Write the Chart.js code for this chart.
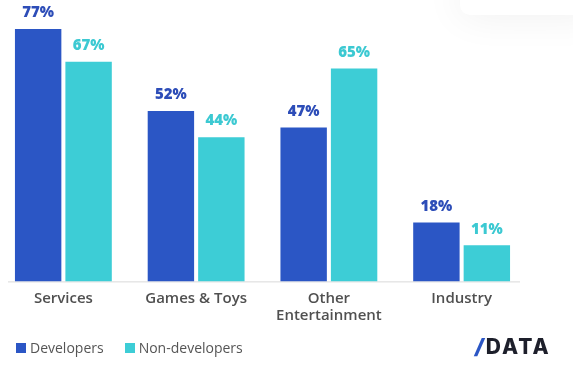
<!DOCTYPE html>
<html>
<head>
<meta charset="utf-8">
<script src="https://cdn.jsdelivr.net/npm/chart.js@4"></script>
<style>
  body { margin: 0; background: #fff; width: 573px; height: 370px; overflow: hidden; position: relative; font-family: 'Open Sans', sans-serif; }
  #wrap { position: absolute; left: -3px; top: 0; width: 534px; height: 370px; }
  .corner { position: absolute; left: 460px; top: -20px; width: 140px; height: 35px; background: #fff; border-radius: 10px; box-shadow: 0 0 40px rgba(0,0,0,0.07); }
  .legend { position: absolute; left: 16px; top: 338px; font-size: 14px; color: #555; display: flex; }
  .legend span { display: flex; align-items: center; margin-right: 21px; }
  .legend i { display: inline-block; width: 10px; height: 10px; margin-right: 4px; }
  .logo { position: absolute; left: 475px; top: 334px; font-family: 'Inter', sans-serif; font-weight: 800; font-size: 21px; color: #1d1f2b; letter-spacing: 2px; }
  .logo b { color: #2b56c5; font-style: italic; margin-right: 0; }
</style>
</head>
<body>
<div class="corner"></div>
<div id="wrap"><canvas id="chart"></canvas></div>
<div class="legend">
  <span><i style="background:#2b56c5"></i>Developers</span>
  <span><i style="background:#3dcdd6"></i>Non-developers</span>
</div>
<div class="logo"><b>/</b>DATA</div>
<script>
const categories = ['Services', 'Games & Toys', ['Other', 'Entertainment'], 'Industry'];
const developers = [77, 52, 47, 18];
const nonDevelopers = [67, 44, 65, 11];

const devColor = '#2b56c5';
const nonDevColor = '#3dcdd6';

// value labels above bars
const valueLabels = {
    id: 'valueLabels',
    afterDatasetsDraw(chart) {
        const ctx = chart.ctx;
        ctx.save();
        ctx.font = "800 15px 'Open Sans'";
        ctx.textAlign = 'center';
        ctx.textBaseline = 'middle';
        chart.data.datasets.forEach((ds, i) => {
            chart.getDatasetMeta(i).data.forEach((bar, j) => {
                ctx.fillStyle = i === 0 ? '#2d4db8' : '#3cc9d2';
                ctx.fillText(ds.data[j] + '%', bar.x, bar.y - 16);
            });
        });
        ctx.restore();
    }
};

// baseline, shorter than the chart area
const baseLine = {
    id: 'baseLine',
    beforeDatasetsDraw(chart) {
        const ctx = chart.ctx;
        const y = chart.scales.y.getPixelForValue(0);
        ctx.save();
        ctx.strokeStyle = '#d9d9d9';
        ctx.lineWidth = 1;
        ctx.beginPath();
        ctx.moveTo(11, y + 0.5);
        ctx.lineTo(523, y + 0.5);
        ctx.stroke();
        ctx.restore();
    }
};

new Chart(document.getElementById('chart'), {
    type: 'bar',
    data: {
        labels: categories,
        datasets: [
            { label: 'Developers', data: developers, backgroundColor: devColor },
            { label: 'Non-developers', data: nonDevelopers, backgroundColor: nonDevColor }
        ]
    },
    options: {
        responsive: true,
        maintainAspectRatio: false,
        animation: false,
        datasets: { bar: { barPercentage: 0.92, categoryPercentage: 0.76 } },
        layout: { padding: { top: 16, left: 0, right: 3, bottom: 37 } },
        plugins: { legend: { display: false }, tooltip: { enabled: false } },
        scales: {
            x: {
                grid: { display: false, drawTicks: false },
                border: { display: false },
                ticks: {
                    padding: 9,
                    color: '#505050',
                    font: { family: 'Open Sans', size: 15, weight: '600', lineHeight: 1.12 },
                    maxRotation: 0
                }
            },
            y: {
                display: false,
                min: 0,
                max: 81
            }
        }
    },
    plugins: [baseLine, valueLabels]
});
</script>
</body>
</html>
